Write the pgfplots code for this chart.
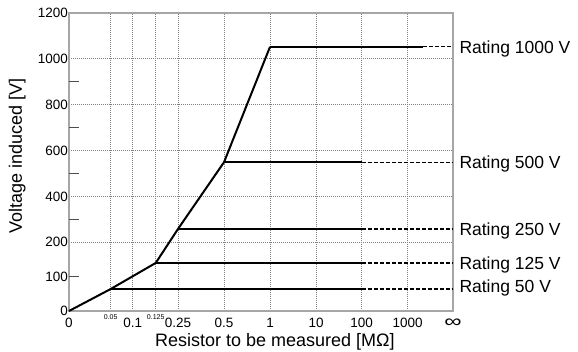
\documentclass[border=0pt]{standalone}
\usepackage{fontspec}
\setmainfont{Liberation Sans}
\usepackage{graphicx}
\usepackage{pgfplots}
\pgfplotsset{compat=1.18}
\definecolor{gridgray}{HTML}{808080}
\definecolor{framegray}{HTML}{A6A6A6}
\newcommand{\tl}{\fontsize{13.5}{14}\selectfont}
\newcommand{\sm}[1]{\raisebox{8pt}{\fontsize{7}{8}\selectfont #1}}
\tikzset{rating/.style={anchor=base west, inner sep=0pt, xshift=6.3pt, yshift=-6.3pt, font=\fontsize{17.5}{19}\selectfont}}
\begin{document}
\begin{tikzpicture}
\useasboundingbox (-69pt,-40pt) rectangle (509pt,311pt);
\begin{axis}[
  at={(0,0)}, anchor=south west,
  scale only axis, width=384pt, height=298pt,
  xmin=0, xmax=8.348, ymin=0, ymax=1200,
  clip=false,
  y coord trafo/.code={\pgfmathparse{#1<=200 ? 0.015*#1 : 1+0.01*#1}},
  y coord inv trafo/.code={\pgfmathparse{#1<=3 ? #1/0.015 : (#1-1)*100}},
  axis line style={draw=framegray, line width=1.5pt},
  major tick length=0pt,
  tick pos=left,
  xtick={0,0.907,1.385,1.885,2.37,3.37,4.37,5.37,6.363,7.363,8.348},
  xticklabels={0,\sm{0.05},0.1,\sm{0.125},0.25,0.5,1,10,100,1000,{\scalebox{1.35}[1]{\fontsize{18}{20}\selectfont ∞}}},
  xticklabel style={font=\tl, anchor=base, yshift=-16pt},
  ytick={0,200,400,600,800,1000,1200},
  yticklabels={0,200,400,600,800,1000,1200},
  yticklabel style={font=\tl, anchor=east, inner xsep=1pt},
  extra y ticks={100,300,500,700,900},
  extra y tick labels={100,,,,},
  extra y tick style={grid=none, major tick length=10pt, tick align=inside,
    tick style={draw=black!70, line width=0.8pt}},
  grid=major,
  major grid style={draw=gridgray, line width=0.7pt, dash pattern=on 1pt off 1pt},
  xlabel={Resistor to be measured [MΩ]},
  ylabel={Voltage induced [V]},
  xlabel style={font=\fontsize{18}{20}\selectfont, at={(axis description cs:0.536,0)}, anchor=base, yshift=-35.7pt},
  ylabel style={font=\fontsize{18}{20}\selectfont, at={(axis description cs:-0.1224,0.52)}, anchor=base},
]
% induced voltage curve
\addplot[black, line width=2pt, line join=round] coordinates {
  (0,0) (0.907,64) (1.885,139.6) (2.37,257.8) (3.37,548.8) (4.37,1052)
};
% rated lines (solid part)
\addplot[black, line width=2pt] coordinates {(0.907,64) (6.363,64)};
\addplot[black, line width=2pt] coordinates {(1.885,139.6) (6.363,139.6)};
\addplot[black, line width=2pt] coordinates {(2.37,257.8) (6.363,257.8)};
\addplot[black, line width=2pt] coordinates {(3.37,548.8) (6.363,548.8)};
\addplot[black, line width=2pt] coordinates {(4.37,1052) (7.70,1052)};
% dashed continuation
\addplot[black, line width=1.4pt, dash pattern=on 4pt off 2pt] coordinates {(6.363,64) (8.348,64)};
\addplot[black, line width=1.4pt, dash pattern=on 4pt off 2pt] coordinates {(6.363,139.6) (8.348,139.6)};
\addplot[black, line width=1.4pt, dash pattern=on 4pt off 2pt] coordinates {(6.363,257.8) (8.348,257.8)};
\addplot[black, line width=1.4pt, dash pattern=on 4pt off 2pt] coordinates {(6.363,548.8) (8.348,548.8)};
\addplot[black, line width=1.4pt, dash pattern=on 4pt off 2pt] coordinates {(7.70,1052) (8.348,1052)};
% rating labels
\node[rating] at (axis cs:8.348,1052) {Rating 1000 V};
\node[rating] at (axis cs:8.348,548.8) {Rating 500 V};
\node[rating] at (axis cs:8.348,257.8) {Rating 250 V};
\node[rating] at (axis cs:8.348,139.6) {Rating 125 V};
\node[rating, yshift=3.2pt] at (axis cs:8.348,64) {Rating 50 V};
\end{axis}
\end{tikzpicture}
\end{document}
